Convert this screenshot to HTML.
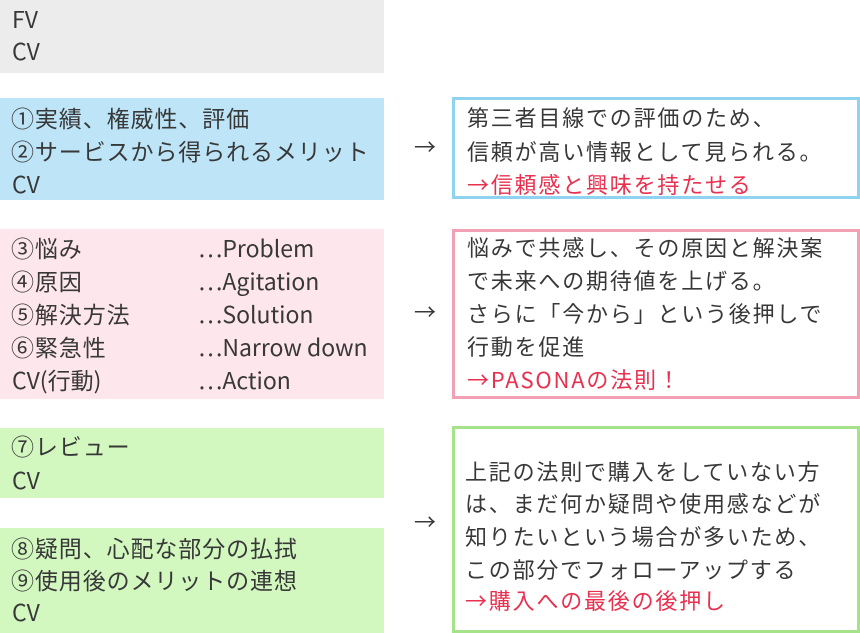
<!DOCTYPE html>
<html><head><meta charset="utf-8"><style>
body{margin:0;width:860px;height:633px;position:relative;background:#fff;overflow:hidden;
font-family:"Noto Sans CJK JP","Liberation Sans",sans-serif;color:#383838;}
.b{position:absolute;box-sizing:border-box}
.t{position:absolute;font-size:23px;line-height:26px;white-space:nowrap;letter-spacing:0.9px}
.l{letter-spacing:0}
.r{font-size:22px;letter-spacing:1.8px}
.red{color:#e8304f}
.a{position:absolute;font-size:22px;line-height:26px;left:414px}
</style></head><body>
<div class="b" style="left:0;top:0;width:384px;height:73px;background:#ececec"></div>
<div class="b" style="left:0;top:98px;width:384px;height:102px;background:#bde5f7"></div>
<div class="b" style="left:0;top:229px;width:384px;height:170px;background:#fde6ec"></div>
<div class="b" style="left:0;top:428px;width:384px;height:70px;background:#d2f8c0"></div>
<div class="b" style="left:0;top:528px;width:384px;height:105px;background:#d2f8c0"></div>

<div class="b" style="left:452px;top:97px;width:408px;height:102px;border:3px solid #8fd3f1"></div>
<div class="b" style="left:452px;top:229px;width:408px;height:170px;border:3px solid #f2a1b5"></div>
<div class="b" style="left:452px;top:426px;width:408px;height:207px;border:3px solid #a6e28a"></div>

<div class="t l" style="left:12px;top:5px">FV</div>
<div class="t l" style="left:12px;top:37px">CV</div>

<div class="t" style="left:11px;top:104px">①実績、権威性、評価</div>
<div class="t" style="left:11px;top:137px">②サービスから得られるメリット</div>
<div class="t l" style="left:12px;top:170px">CV</div>

<div class="t" style="left:11px;top:234px">③悩み</div>
<div class="t" style="left:11px;top:267px">④原因</div>
<div class="t" style="left:11px;top:300px">⑤解決方法</div>
<div class="t" style="left:11px;top:333px">⑥緊急性</div>
<div class="t l" style="left:12px;top:366px">CV(行動)</div>
<div class="t l" style="left:198px;top:234px">…Problem</div>
<div class="t l" style="left:198px;top:267px">…Agitation</div>
<div class="t l" style="left:198px;top:300px">…Solution</div>
<div class="t l" style="left:198px;top:333px">…Narrow down</div>
<div class="t l" style="left:198px;top:366px">…Action</div>

<div class="t" style="left:11px;top:432px">⑦レビュー</div>
<div class="t l" style="left:12px;top:466px">CV</div>
<div class="t" style="left:11px;top:534px">⑧疑問、心配な部分の払拭</div>
<div class="t" style="left:11px;top:566px">⑨使用後のメリットの連想</div>
<div class="t l" style="left:12px;top:598px">CV</div>

<div class="a" style="top:133px">→</div>
<div class="a" style="top:298px">→</div>
<div class="a" style="top:508px">→</div>

<div class="t r" style="left:467px;top:104px">第三者目線での評価のため、</div>
<div class="t r" style="left:467px;top:138px">信頼が高い情報として見られる。</div>
<div class="t r red" style="left:467px;top:171px">→信頼感と興味を持たせる</div>

<div class="t r" style="left:467px;top:234px">悩みで共感し、その原因と解決案</div>
<div class="t r" style="left:467px;top:267px">で未来への期待値を上げる。</div>
<div class="t r" style="left:467px;top:300px">さらに「今から」という後押しで</div>
<div class="t r" style="left:467px;top:333px">行動を促進</div>
<div class="t r red" style="left:467px;top:366px">→PASONAの法則！</div>

<div class="t r" style="left:465px;top:458px">上記の法則で購入をしていない方</div>
<div class="t r" style="left:465px;top:490px">は、まだ何か疑問や使用感などが</div>
<div class="t r" style="left:465px;top:523px">知りたいという場合が多いため、</div>
<div class="t r" style="left:465px;top:556px">この部分でフォローアップする</div>
<div class="t r red" style="left:465px;top:587px">→購入への最後の後押し</div>
</body></html>
